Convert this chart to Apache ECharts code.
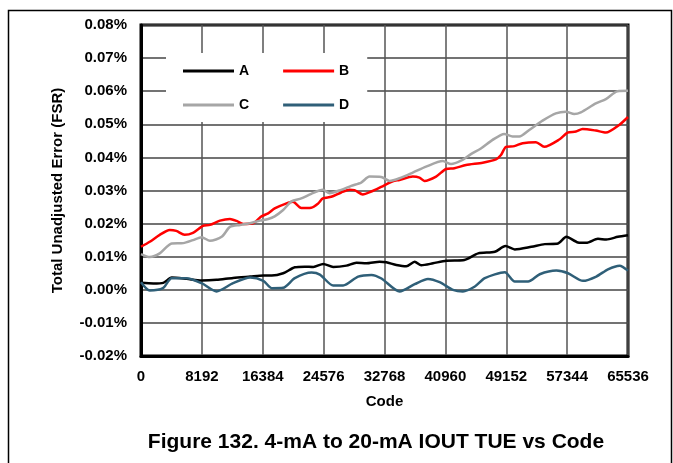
<!DOCTYPE html>
<html>
<head>
<meta charset="utf-8">
<script src="https://cdn.jsdelivr.net/npm/echarts@6/dist/echarts.min.js"></script>
<style>
  html, body { margin: 0; padding: 0; background: #fff; }
  #chart { width: 673px; height: 463px; }
</style>
</head>
<body>
<div id="chart"></div>
<script>
// code (x) vs TUE in %FSR
var xTicks = [0, 8192, 16384, 24576, 32768, 40960, 49152, 57344, 65536];
var yTicks = [-0.02, -0.01, 0.00, 0.01, 0.02, 0.03, 0.04, 0.05, 0.06, 0.07, 0.08];

var seriesNames = ['A', 'B', 'C', 'D'];
var seriesColors = ['#000000', '#ff0000', '#a6a6a6', '#2f5f78'];

var tueA = [[0,0.0021],[1660,0.0019],[3000,0.0021],[4130,0.0037],[6140,0.0033],[8150,0.0028],[10160,0.0030],[12390,0.0036],[14690,0.0040],[16470,0.0043],[17600,0.0043],[19130,0.0050],[20700,0.0068],[22020,0.0070],[23190,0.0069],[24530,0.0078],[25860,0.0069],[27650,0.0073],[28990,0.0082],[30330,0.0080],[32120,0.0085],[33010,0.0083],[34360,0.0075],[35700,0.0071],[36830,0.0085],[37720,0.0074],[39290,0.0080],[41080,0.0088],[43320,0.0089],[45380,0.0110],[47620,0.0115],[49050,0.0132],[50300,0.0122],[52540,0.0130],[54330,0.0138],[56120,0.0140],[57240,0.0160],[58800,0.0143],[59920,0.0142],[61490,0.0154],[62610,0.0152],[64180,0.0160],[65536,0.0165]];

var tueB = [[0,0.0130],[1180,0.0145],[2520,0.0166],[3860,0.0181],[4750,0.0178],[5870,0.0166],[6990,0.0172],[8330,0.0193],[9280,0.0196],[10630,0.0209],[11970,0.0214],[12860,0.0208],[13760,0.0199],[15100,0.0201],[16220,0.0222],[17110,0.0231],[17990,0.0246],[19330,0.0259],[20450,0.0266],[21570,0.0247],[22910,0.0248],[23800,0.0260],[24470,0.0276],[25600,0.0281],[26940,0.0294],[28060,0.0302],[28730,0.0301],[29850,0.0288],[30980,0.0297],[32320,0.0311],[33880,0.0328],[34780,0.0332],[36570,0.0342],[37470,0.0339],[38140,0.0329],[39710,0.0342],[41050,0.0365],[42170,0.0367],[43740,0.0377],[45980,0.0384],[47770,0.0394],[48440,0.0407],[49120,0.0432],[50240,0.0434],[51360,0.0443],[53150,0.0446],[54270,0.0432],[56290,0.0454],[57400,0.0475],[58530,0.0478],[59420,0.0486],[61210,0.0481],[62560,0.0475],[64350,0.0498],[65536,0.0522]];

var tueC = [[0,0.0108],[1180,0.0099],[2520,0.0110],[4130,0.0140],[5690,0.0141],[6990,0.0150],[8150,0.0159],[9280,0.0148],[10850,0.0160],[11970,0.0190],[13310,0.0196],[14650,0.0201],[15990,0.0209],[17110,0.0214],[17990,0.0222],[19130,0.0241],[20250,0.0267],[21570,0.0276],[22910,0.0290],[24470,0.0302],[25370,0.0292],[26940,0.0302],[28290,0.0314],[29630,0.0324],[30750,0.0342],[32320,0.0341],[33440,0.0329],[34780,0.0337],[36570,0.0354],[38360,0.0372],[40600,0.0389],[41720,0.0380],[43060,0.0390],[44400,0.0410],[45740,0.0427],[47310,0.0453],[48880,0.0471],[50000,0.0463],[50910,0.0463],[52250,0.0483],[54040,0.0511],[55830,0.0533],[57180,0.0538],[58300,0.0531],[59190,0.0536],[61210,0.0563],[62560,0.0576],[64130,0.0600],[65536,0.0601]];

var tueD = [[0,0.0023],[1180,-0.0002],[2960,0.0005],[4130,0.0035],[6140,0.0035],[8150,0.0020],[10160,-0.0005],[12390,0.0020],[14690,0.0037],[16470,0.0027],[17600,0.0005],[19130,0.0006],[20700,0.0035],[22960,0.0052],[24070,0.0046],[25860,0.0013],[27200,0.0013],[29220,0.0040],[31010,0.0045],[32360,0.0034],[34810,-0.0005],[36830,0.0017],[38620,0.0033],[40190,0.0023],[41980,0.0000],[43320,-0.0005],[44930,0.0010],[46270,0.0035],[48960,0.0053],[50300,0.0025],[52090,0.0025],[53660,0.0047],[55900,0.0058],[57470,0.0050],[59480,0.0027],[61270,0.0040],[62840,0.0062],[64410,0.0073],[65536,0.0058]];

var allData = [tueA, tueB, tueC, tueD];
var fontFam = 'Arial, "Liberation Sans", sans-serif';

var chart = echarts.init(document.getElementById('chart'), null, { renderer: 'canvas' });

var series = [];
for (var i = 0; i < seriesNames.length; i++) {
  series.push({
    name: seriesNames[i],
    type: 'line',
    data: allData[i],
    showSymbol: false,
    symbol: 'none',
    smooth: 0.25,
    lineStyle: { color: seriesColors[i], width: 2.5 },
    itemStyle: { color: seriesColors[i] },
    z: 3
  });
}

var legendBase = {
  orient: 'horizontal',
  left: 166,
  icon: 'rect',
  itemWidth: 51,
  itemHeight: 3,
  itemGap: 34,
  backgroundColor: '#ffffff',
  textStyle: { fontFamily: fontFam, fontWeight: 'bold', fontSize: 14, color: '#000' }
};

chart.setOption({
  animation: false,
  backgroundColor: '#ffffff',
  title: {
    text: 'Figure 132. 4-mA to 20-mA IOUT TUE vs Code',
    left: 371,
    textAlign: 'center',
    top: 427,
    textStyle: { fontFamily: fontFam, fontWeight: 'bold', fontSize: 21, color: '#000' }
  },
  legend: [
    Object.assign({}, legendBase, { data: ['A', 'B'], top: 53, padding: [11, 18, 10, 17] }),
    Object.assign({}, legendBase, { data: ['C', 'D'], top: 88, padding: [10, 18, 10, 17] })
  ],
  graphic: [{
    type: 'rect',
    shape: { x: 8.5, y: 10.5, width: 663, height: 470 },
    style: { fill: 'none', stroke: '#000', lineWidth: 1.5 },
    silent: true
  }],
  grid: {
    left: 141,
    right: 45,
    top: 25,
    bottom: 107,
    show: true,
    borderColor: '#000',
    borderWidth: 3
  },
  xAxis: {
    type: 'value',
    min: xTicks[0],
    max: xTicks[xTicks.length - 1],
    interval: 8192,
    name: 'Code',
    nameLocation: 'middle',
    nameGap: 38,
    nameTextStyle: { fontFamily: fontFam, fontWeight: 'bold', fontSize: 15, color: '#000' },
    axisLine: { show: true, onZero: false, lineStyle: { color: '#000', width: 3 } },
    axisTick: { show: false },
    axisLabel: {
      margin: 13,
      fontFamily: fontFam, fontWeight: 'bold', fontSize: 15, color: '#000',
      formatter: function (v) { return String(v); }
    },
    splitLine: { show: true, lineStyle: { color: '#555', width: 1.5 } }
  },
  yAxis: {
    type: 'value',
    min: yTicks[0],
    max: yTicks[yTicks.length - 1],
    interval: 0.01,
    name: 'Total Unadjusted Error (FSR)',
    nameLocation: 'middle',
    nameGap: 76,
    nameTextStyle: { fontFamily: fontFam, fontWeight: 'bold', fontSize: 15, color: '#000' },
    axisLine: { show: true, onZero: false, lineStyle: { color: '#000', width: 3 } },
    axisTick: { show: false },
    axisLabel: {
      margin: 14,
      fontFamily: fontFam, fontWeight: 'bold', fontSize: 15, color: '#000',
      formatter: function (v) { return v.toFixed(2) + '%'; }
    },
    splitLine: { show: true, lineStyle: { color: '#444', width: 1.5 } }
  },
  series: series
});
</script>
</body>
</html>
